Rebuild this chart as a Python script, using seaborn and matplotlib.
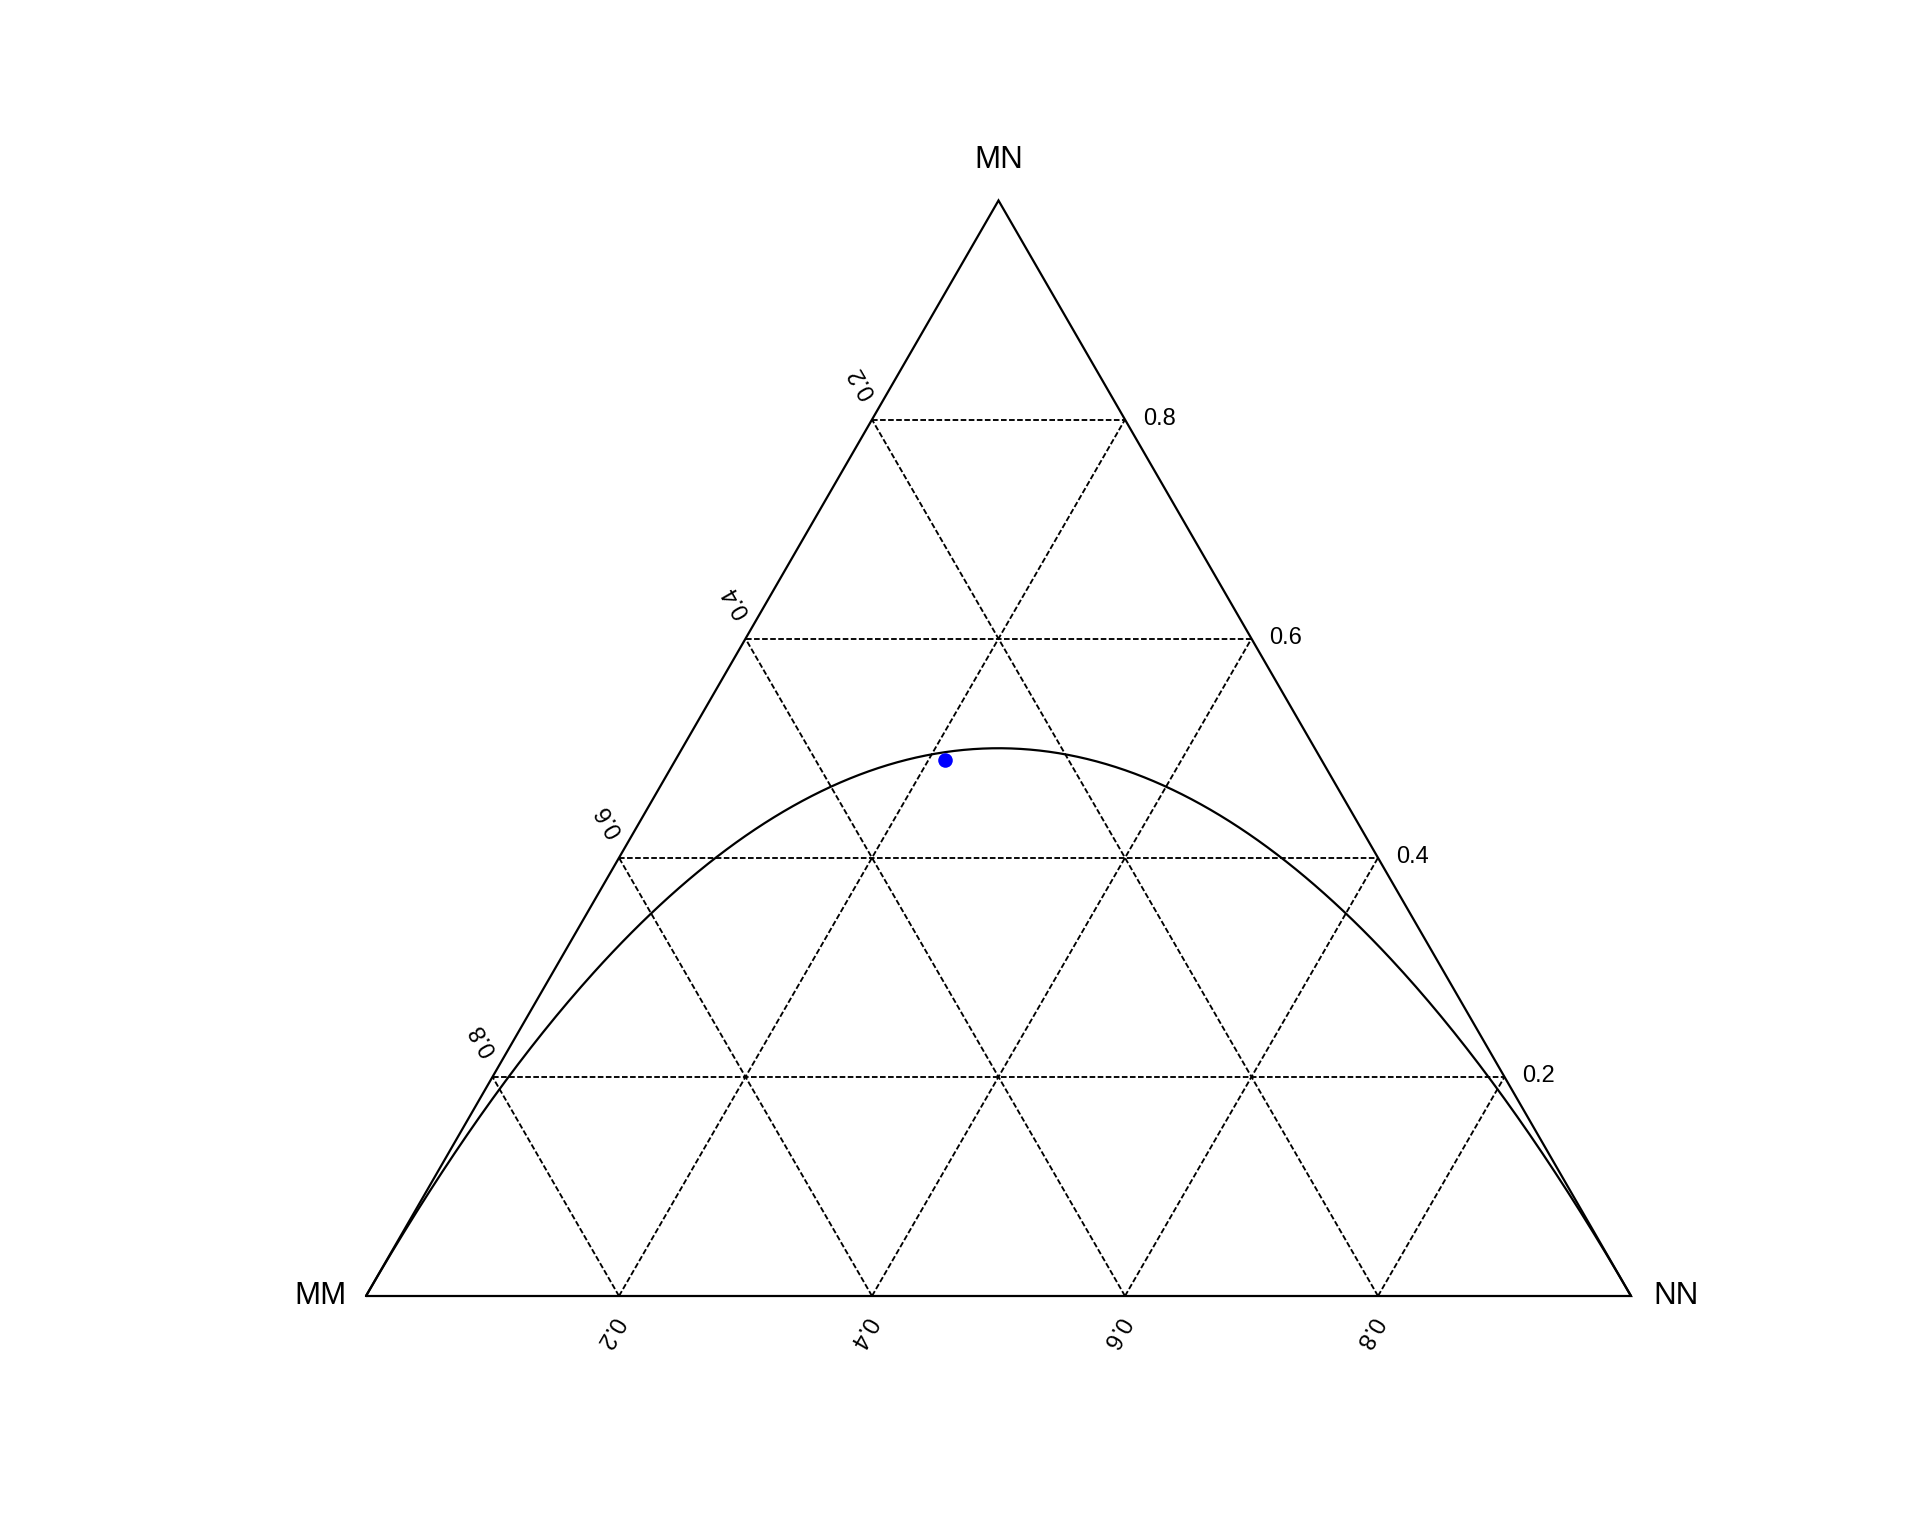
import numpy as np
import pandas as pd
import matplotlib
matplotlib.use("Agg")
import matplotlib.pyplot as plt
import seaborn as sns

# genotype counts (MN blood group sample)
genotypes = ["MM", "MN", "NN"]
counts = [298, 489, 213]
ticks = [0.2, 0.4, 0.6, 0.8]
tick_labels = ["0.2", "0.4", "0.6", "0.8"]

SQ3 = np.sqrt(3) / 2


def tern(mm, mn, nn):
    # MM bottom-left, NN bottom-right, MN top
    mm, mn, nn = np.asarray(mm, float), np.asarray(mn, float), np.asarray(nn, float)
    s = mm + mn + nn
    return (nn + mn / 2) / s, (mn * SQ3) / s


sns.set_style("white")
plt.rcParams["font.family"] = ["Liberation Sans", "DejaVu Sans"]
plt.rcParams["text.color"] = "black"

fig = plt.figure(figsize=(19.2, 15.36), dpi=100)
ax = fig.add_axes([0, 0, 1, 1])
scale = 1265.0
ax.set_xlim(-366 / scale, (1920 - 366) / scale)
ax.set_ylim(-240 / scale, 1296 / scale)
ax.axis("off")

dash_kw = dict(color="black", lw=1.35, dashes=(3.0, 1.3), zorder=1)

# grid lines
for k in ticks:
    # constant MN
    x, y = tern([1 - k, 0], [k, k], [0, 1 - k])
    ax.plot(x, y, **dash_kw)
    # constant NN
    x, y = tern([1 - k, 0], [0, 1 - k], [k, k])
    ax.plot(x, y, **dash_kw)
    # constant MM
    x, y = tern([k, k], [0, 1 - k], [1 - k, 0])
    ax.plot(x, y, **dash_kw)

# triangle
x, y = tern([1, 0, 0, 1], [0, 0, 1, 0], [0, 1, 0, 0])
ax.plot(x, y, color="black", lw=1.6, zorder=2, solid_joinstyle="miter")

# Hardy-Weinberg equilibrium curve
p = np.linspace(0, 1, 401)
q = 1 - p
hw = pd.DataFrame({"MM": p ** 2, "MN": 2 * p * q, "NN": q ** 2})
hw["x"], hw["y"] = tern(hw["MM"], hw["MN"], hw["NN"])
sns.lineplot(data=hw, x="x", y="y", sort=False, color="black", lw=1.6,
             ax=ax, zorder=3)

# observed sample
obs = pd.DataFrame([counts], columns=genotypes)
obs["x"], obs["y"] = tern(obs["MM"], obs["MN"], obs["NN"])
sns.scatterplot(data=obs, x="x", y="y", color="blue", s=110, linewidth=0,
                ax=ax, zorder=4)

# vertex labels
vx, vy = tern([1, 0, 0], [0, 1, 0], [0, 0, 1])
ax.annotate("MM", (vx[0], vy[0]), xytext=(-19, 0), textcoords="offset pixels",
            ha="right", va="center", fontsize=22.5)
ax.annotate("MN", (vx[1], vy[1]), xytext=(0, 40), textcoords="offset pixels",
            ha="center", va="center", fontsize=22.5)
ax.annotate("NN", (vx[2], vy[2]), xytext=(22, 0), textcoords="offset pixels",
            ha="left", va="center", fontsize=22.5)

# tick labels
for k, lab in zip(ticks, tick_labels):
    # bottom: NN
    x, y = tern(1 - k, 0, k)
    ax.annotate(lab, (x, y), xytext=(-10, -36), textcoords="offset pixels",
                ha="center", va="center", rotation=240, fontsize=17)
    # left: MM
    x, y = tern(k, 1 - k, 0)
    ax.annotate(lab, (x, y), xytext=(-9, 37), textcoords="offset pixels",
                ha="center", va="center", rotation=120, fontsize=17)
    # right: MN
    x, y = tern(0, k, 1 - k)
    ax.annotate(lab, (x, y), xytext=(18, 1), textcoords="offset pixels",
                ha="left", va="center", fontsize=17)

ax.set_xlabel("")
ax.set_ylabel("")
fig.savefig("out.png", dpi=100, facecolor="white")
